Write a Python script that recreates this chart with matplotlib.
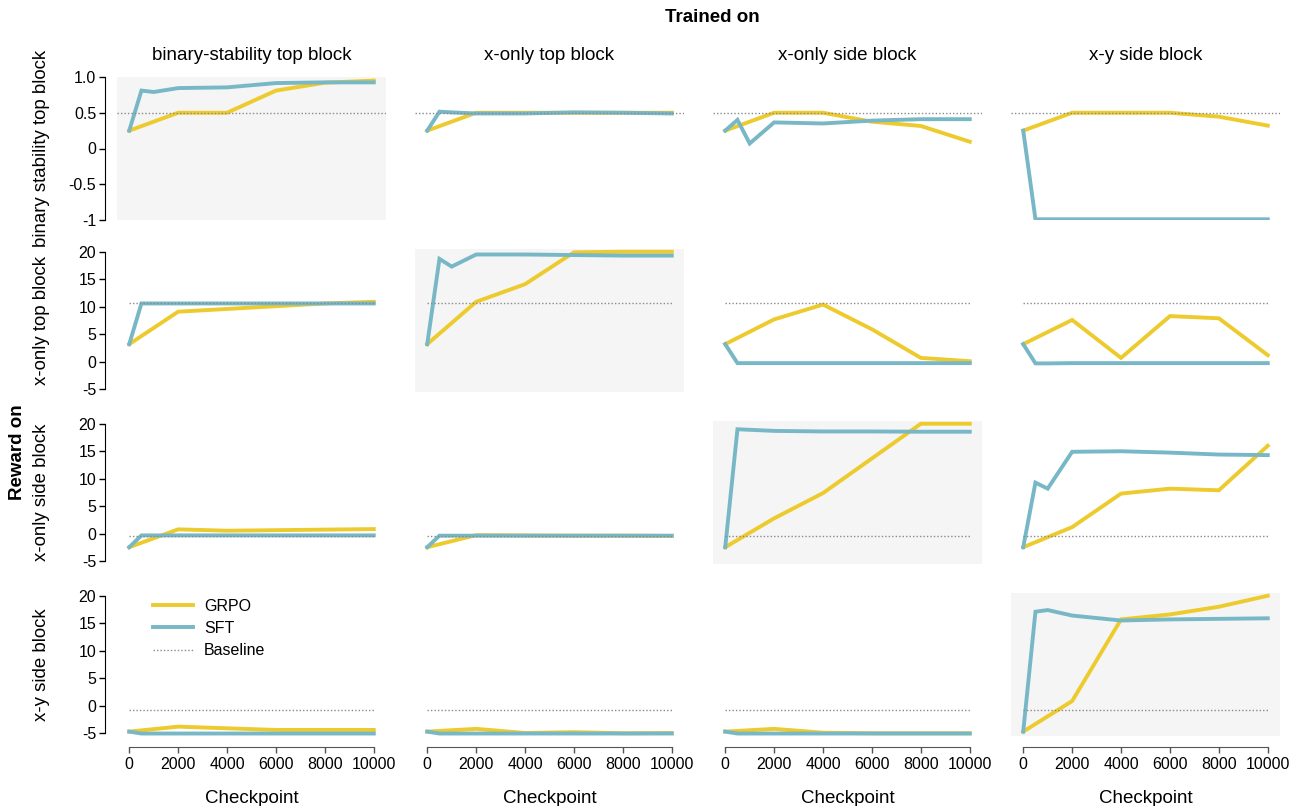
import matplotlib
matplotlib.use("Agg")
import matplotlib.pyplot as plt
from matplotlib.lines import Line2D

plt.rcParams['font.family'] = ['Liberation Sans', 'DejaVu Sans']

# checkpoints
sft_steps = [0, 500, 1000, 2000, 4000, 6000, 8000, 10000]
grpo_steps = [0, 2000, 4000, 6000, 8000, 10000]

train_blocks = ["binary-stability top block", "x-only top block", "x-only side block", "x-y side block"]
reward_blocks = ["binary stability top block", "x-only top block", "x-only side block", "x-y side block"]
baselines = [0.5, 10.6, -0.4, -0.8]

# reward rows, one list per training column
grpo_binary = [[0.25, 0.5, 0.5, 0.81, 0.92, 0.95],
               [0.25, 0.5, 0.5, 0.5, 0.5, 0.5],
               [0.25, 0.5, 0.5, 0.375, 0.315, 0.095],
               [0.25, 0.5, 0.5, 0.5, 0.445, 0.32]]
sft_binary = [[0.25, 0.81, 0.79, 0.845, 0.855, 0.915, 0.925, 0.925],
              [0.25, 0.515, 0.505, 0.49, 0.49, 0.505, 0.5, 0.49],
              [0.25, 0.40, 0.07, 0.365, 0.35, 0.39, 0.41, 0.41],
              [0.25, -0.99, -0.99, -0.99, -0.99, -0.99, -0.99, -0.99]]

grpo_xtop = [[3.2, 9.1, 9.6, 10.1, 10.6, 10.9],
             [3.2, 10.9, 14.1, 19.9, 20.0, 20.0],
             [3.2, 7.7, 10.4, 5.9, 0.7, 0.1],
             [3.2, 7.6, 0.7, 8.3, 7.9, 1.2]]
sft_xtop = [[3.2, 10.6, 10.6, 10.6, 10.6, 10.6, 10.6, 10.6],
            [3.2, 18.7, 17.3, 19.5, 19.5, 19.4, 19.3, 19.3],
            [3.2, -0.25, -0.25, -0.25, -0.25, -0.25, -0.25, -0.25],
            [3.2, -0.3, -0.3, -0.25, -0.25, -0.25, -0.25, -0.25]]

grpo_xside = [[-2.45, 0.8, 0.55, 0.65, 0.75, 0.85],
              [-2.45, -0.25, -0.3, -0.35, -0.35, -0.4],
              [-2.45, 2.8, 7.4, 13.7, 20.0, 20.0],
              [-2.45, 1.2, 7.3, 8.2, 7.9, 16.0]]
sft_xside = [[-2.45, -0.3, -0.3, -0.3, -0.3, -0.3, -0.3, -0.3],
             [-2.45, -0.35, -0.35, -0.35, -0.35, -0.35, -0.35, -0.35],
             [-2.45, 19.0, 18.9, 18.7, 18.6, 18.6, 18.55, 18.55],
             [-2.45, 9.3, 8.2, 14.9, 15.0, 14.75, 14.4, 14.3]]

grpo_xy = [[-4.7, -3.8, -4.1, -4.4, -4.4, -4.4],
           [-4.7, -4.2, -4.95, -4.8, -5.0, -4.95],
           [-4.7, -4.2, -4.9, -5.0, -5.0, -5.0],
           [-4.7, 0.85, 15.7, 16.6, 18.0, 20.0]]
sft_xy = [[-4.7, -5.05, -5.05, -5.05, -5.05, -5.05, -5.05, -5.05],
          [-4.7, -5.05, -5.05, -5.05, -5.05, -5.05, -5.05, -5.05],
          [-4.7, -5.05, -5.05, -5.05, -5.05, -5.05, -5.05, -5.05],
          [-4.7, 17.1, 17.4, 16.4, 15.5, 15.7, 15.8, 15.9]]

grpo_rows = [grpo_binary, grpo_xtop, grpo_xside, grpo_xy]
sft_rows = [sft_binary, sft_xtop, sft_xside, sft_xy]

x_ticks = [0, 2000, 4000, 6000, 8000, 10000]
y_ticks_binary = [-1, -0.5, 0, 0.5, 1.0]
y_labels_binary = ["-1", "-0.5", "0", "0.5", "1.0"]
y_ticks_reward = [-5, 0, 5, 10, 15, 20]
y_labels_reward = ["-5", "0", "5", "10", "15", "20"]

GRPO_C = "#EDCB2E"
SFT_C = "#78B8C6"
BASE_C = "#8A8A8A"

W, H = 1300, 806
fig = plt.figure(figsize=(13, 8.06), dpi=100)

col_left = [117, 415, 713, 1011]
row_top = [77, 249, 421, 593]
aw, ah = 269, 143

for r in range(4):
    for c in range(4):
        ax = fig.add_axes([col_left[c] / W, 1 - (row_top[r] + ah) / H, aw / W, ah / H])
        ax.set_facecolor("#F5F5F5" if r == c else "white")
        ax.plot(grpo_steps, grpo_rows[r][c], color=GRPO_C, lw=2.8, zorder=2,
                solid_joinstyle="miter")
        ax.plot(sft_steps, sft_rows[r][c], color=SFT_C, lw=2.8, zorder=3,
                solid_joinstyle="miter")
        if r == 0:
            ax.axhline(baselines[r], color=BASE_C, lw=1, ls=(0, (1, 1.5)), zorder=4)
        else:
            ax.hlines(baselines[r], 0, 10000, color=BASE_C, lw=1, ls=(0, (1, 1.5)), zorder=4)
        ax.set_xlim(-500, 10500)
        if r == 0:
            ax.set_ylim(-1.0, 1.0)
        else:
            ax.set_ylim(-5.5, 20.5)

        for s in ["top", "right"]:
            ax.spines[s].set_visible(False)

        if c == 0:
            ax.spines["left"].set_position(("outward", 9))
            if r == 0:
                ax.set_yticks(y_ticks_binary)
                ax.set_yticklabels(y_labels_binary)
                ax.spines["left"].set_bounds(-1, 1)
            else:
                ax.set_yticks(y_ticks_reward)
                ax.set_yticklabels(y_labels_reward)
                ax.spines["left"].set_bounds(-5, 20)
            ax.tick_params(axis="y", labelsize=11.5, length=4, width=1, pad=2)
        else:
            ax.spines["left"].set_visible(False)
            ax.set_yticks([])

        if r == 3:
            ax.spines["bottom"].set_position(("outward", 8))
            ax.spines["bottom"].set_bounds(0, 10000)
            ax.spines["bottom"].set_color("#555555")
            ax.set_xticks(x_ticks)
            ax.tick_params(axis="x", labelsize=11.5, length=4, width=1, color="#555555", pad=3)
            ax.set_xlabel("Checkpoint", fontsize=13.5, labelpad=13)
        else:
            ax.spines["bottom"].set_visible(False)
            ax.set_xticks([])

        if r == 0:
            ax.set_title(train_blocks[c], fontsize=13.5, pad=12)
        if c == 0:
            fig.text(42 / W, 1 - (row_top[r] + ah / 2) / H, reward_blocks[r],
                     rotation=90, ha="center", va="center", fontsize=13.4)

        if r == 3 and c == 0:
            handles = [Line2D([], [], color=GRPO_C, lw=2.8),
                       Line2D([], [], color=SFT_C, lw=2.8),
                       Line2D([], [], color=BASE_C, lw=1, ls=(0, (1, 1.5)))]
            ax.legend(handles, ["GRPO", "SFT", "Baseline"], loc="upper left",
                      bbox_to_anchor=(0.08, 1.06), frameon=False, fontsize=11.5,
                      handlelength=2.5, handletextpad=0.7, labelspacing=0.45)

fig.text(712 / W, 1 - 17 / H, "Trained on", ha="center", va="center",
         fontsize=13.5, fontweight="bold")
fig.text(18 / W, 1 - 452 / H, "Reward on", rotation=90, ha="center", va="center",
         fontsize=13.5, fontweight="bold")

fig.savefig("out.png", dpi=100)
